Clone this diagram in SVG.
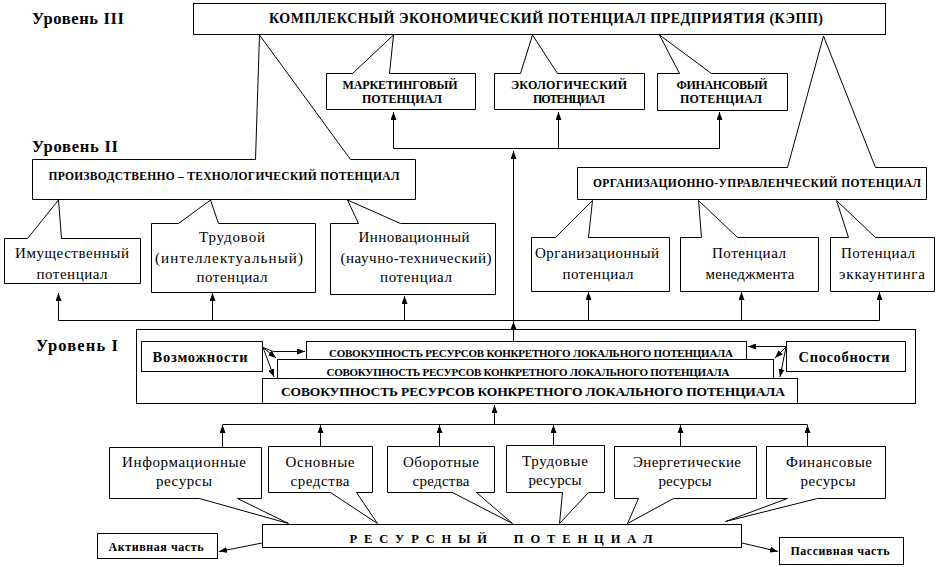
<svg xmlns="http://www.w3.org/2000/svg" width="937" height="567" viewBox="0 0 937 567">
<style>
.b{fill:#fff;stroke:#000;stroke-width:1}
.c{fill:none;stroke:#000;stroke-width:1}
text{font-family:"Liberation Serif","Times New Roman",serif;fill:#000;text-anchor:middle}
.lvl{font-size:16.5px;font-weight:bold;text-anchor:start}
.h{font-size:14px;font-weight:bold}
.cap{font-size:12px;font-weight:bold}
.cs{font-size:11.5px;font-weight:bold}
.ss{font-size:11px;font-weight:bold}
.r{font-size:15px}
.bw{font-size:14.5px;font-weight:bold}
.pre{white-space:pre}
</style>
<defs>
<marker id="ah" viewBox="0 0 8 6" refX="8" refY="3" markerWidth="8" markerHeight="6" orient="auto" markerUnits="userSpaceOnUse"><path d="M0,0 L8,3 L0,6 z" fill="#000"/></marker>
</defs>
<rect width="937" height="567" fill="#fff"/>

<g id="labels">
<text class="lvl" x="32" y="23.5" textLength="92">Уровень III</text>
<text class="lvl" x="32" y="151.5" textLength="86">Уровень II</text>
<text class="lvl" x="36" y="350.5" textLength="82">Уровень I</text>
</g>

<g id="kepp"><rect class="b" x="193.5" y="3.5" width="692" height="31"/>
<text class="h" x="546" y="23" textLength="554">КОМПЛЕКСНЫЙ ЭКОНОМИЧЕСКИЙ ПОТЕНЦИАЛ ПРЕДПРИЯТИЯ (КЭПП)</text></g>

<g id="marketing"><path class="b" d="M326.5,73.5 H352.5 L393.5,35 L389.5,73.5 H475.5 V109.5 H326.5 Z"/>
<text class="cap" x="400" y="89" textLength="115">МАРКЕТИНГОВЫЙ</text>
<text class="cap" x="402" y="103" textLength="80">ПОТЕНЦИАЛ</text></g>

<g id="ecology"><path class="b" d="M494.5,73.5 H520.5 L532.5,35 L557.5,73.5 H644.5 V109.5 H494.5 Z"/>
<text class="cap" x="569" y="89" textLength="116">ЭКОЛОГИЧЕСКИЙ</text>
<text class="cap" x="569" y="103" textLength="72">ПОТЕНЦИАЛ</text></g>

<g id="finance"><path class="b" d="M657.5,73.5 H679.5 L659.5,35 L711.5,73.5 H787.5 V110.5 H657.5 Z"/>
<text class="cap" x="722" y="89" textLength="91">ФИНАНСОВЫЙ</text>
<text class="cap" x="721" y="103" textLength="82">ПОТЕНЦИАЛ</text></g>

<g id="ptp"><path class="b" d="M32.5,159.5 H255.5 L259.5,35 L350.5,159.5 H415.5 V199.5 H32.5 Z"/>
<text class="cs" x="224" y="180" textLength="351">ПРОИЗВОДСТВЕННО – ТЕХНОЛОГИЧЕСКИЙ ПОТЕНЦИАЛ</text></g>

<g id="oup"><path class="b" d="M577.5,167.5 H787.5 L823.5,36 L875.5,167.5 H926.5 V199.5 H577.5 Z"/>
<text class="cs" x="757" y="187" textLength="328">ОРГАНИЗАЦИОННО-УПРАВЛЕНЧЕСКИЙ ПОТЕНЦИАЛ</text></g>

<g id="imush"><path class="b" d="M4.5,238.5 H27.5 L58.5,200 L61.5,238.5 H140.5 V283.5 H4.5 Z"/>
<text class="r" x="72" y="258" textLength="114">Имущественный</text>
<text class="r" x="72" y="279" textLength="71">потенциал</text></g>

<g id="trud"><path class="b" d="M151.5,223.5 H178.5 L210.5,200 L218.5,223.5 H315.5 V292.5 H151.5 Z"/>
<text class="r" x="232" y="242" textLength="66">Трудовой</text>
<text class="r" x="229" y="263" textLength="148">(интеллектуальный)</text>
<text class="r" x="232" y="282" textLength="71">потенциал</text></g>

<g id="innov"><path class="b" d="M330.5,223.5 H358.5 L347.5,200 L400.5,223.5 H495.5 V294.5 H330.5 Z"/>
<text class="r" x="414" y="242" textLength="111">Инновационный</text>
<text class="r" x="416" y="263" textLength="151">(научно-технический)</text>
<text class="r" x="416" y="282" textLength="72">потенциал</text></g>

<g id="org"><path class="b" d="M531.5,237.5 H555.5 L592.5,200.5 L588.5,237.5 H669.5 V291.5 H531.5 Z"/>
<text class="r" x="597" y="258" textLength="124">Организационный</text>
<text class="r" x="598" y="279" textLength="71">потенциал</text></g>

<g id="mgmt"><path class="b" d="M680.5,237.5 H701.5 L698.5,200.5 L737.5,237.5 H818.5 V291.5 H680.5 Z"/>
<text class="r" x="749" y="258" textLength="74">Потенциал</text>
<text class="r" x="750" y="279" textLength="89">менеджмента</text></g>

<g id="acct"><path class="b" d="M830.5,237.5 H848.5 L836.5,200.5 L875.5,237.5 H934.5 V291.5 H830.5 Z"/>
<text class="r" x="878" y="258" textLength="74">Потенциал</text>
<text class="r" x="882" y="279" textLength="86">эккаунтинга</text></g>

<g id="level1"><rect class="b" x="136.5" y="329.5" width="779" height="74"/></g>

<g id="vozm"><rect class="b" x="141.5" y="341.5" width="121" height="30"/>
<text class="bw" x="200" y="362" textLength="95">Возможности</text></g>

<g id="stack1"><rect class="b" x="306.5" y="341.5" width="440" height="18"/>
<text class="ss" x="531" y="356.5" textLength="404">СОВОКУПНОСТЬ РЕСУРСОВ КОНКРЕТНОГО ЛОКАЛЬНОГО ПОТЕНЦИАЛА</text></g>
<g id="stack2"><rect class="b" x="277.5" y="359.5" width="496" height="19"/>
<text class="ss" x="528" y="375.5" textLength="403">СОВОКУПНОСТЬ РЕСУРСОВ КОНКРЕТНОГО ЛОКАЛЬНОГО ПОТЕНЦИАЛА</text></g>
<g id="stack3"><rect class="b" x="262.5" y="378.5" width="535" height="25"/>
<text class="cap" style="font-size:13.5px" x="533" y="396" textLength="504">СОВОКУПНОСТЬ РЕСУРСОВ КОНКРЕТНОГО ЛОКАЛЬНОГО ПОТЕНЦИАЛА</text></g>

<g id="sposob"><rect class="b" x="786.5" y="341.5" width="119" height="30"/>
<text class="bw" x="844" y="362" textLength="91">Способности</text></g>

<g id="info"><path class="b" d="M109.5,447.5 H261.5 V498.5 H237.5 L288.5,523.5 L199.5,498.5 H109.5 Z"/>
<text class="r" x="184" y="467" textLength="124">Информационные</text>
<text class="r" x="184" y="486" textLength="56">ресурсы</text></g>

<g id="osn"><path class="b" d="M268.5,446.5 H372.5 V492.5 H356.5 L377.5,523.5 L330.5,492.5 H268.5 Z"/>
<text class="r" x="320" y="467" textLength="69">Основные</text>
<text class="r" x="320" y="486" textLength="59">средства</text></g>

<g id="obor"><path class="b" d="M387.5,446.5 H494.5 V492.5 H476.5 L512.5,523.5 L452.5,492.5 H387.5 Z"/>
<text class="r" x="441" y="467" textLength="76">Оборотные</text>
<text class="r" x="441" y="486" textLength="57">средства</text></g>

<g id="trudres"><path class="b" d="M506.5,445.5 H604.5 V492.5 H588.5 L559.5,523.5 L562.5,492.5 H506.5 Z"/>
<text class="r" x="555" y="466" textLength="66">Трудовые</text>
<text class="r" x="555" y="485" textLength="53">ресурсы</text></g>

<g id="energ"><path class="b" d="M614.5,446.5 H756.5 V498.5 H673.5 L627.5,523.5 L638.5,498.5 H614.5 Z"/>
<text class="r" x="687" y="467" textLength="108">Энергетические</text>
<text class="r" x="685" y="486" textLength="53">ресурсы</text></g>

<g id="finres"><path class="b" d="M766.5,446.5 H885.5 V498.5 H817.5 L725.5,521.5 L787.5,498.5 H766.5 Z"/>
<text class="r" x="829" y="467" textLength="86">Финансовые</text>
<text class="r" x="828" y="486" textLength="55">ресурсы</text></g>

<g id="rp"><rect class="b" x="262.5" y="524.5" width="479" height="23"/>
<text class="cap pre" style="font-size:12.5px" x="501" y="542.5" textLength="303">Р Е С У Р С Н Ы Й     П О Т Е Н Ц И А Л</text></g>

<g id="active"><rect class="b" x="97.5" y="533.5" width="120" height="25"/>
<text class="cap" x="156" y="551" textLength="95">Активная часть</text></g>

<g id="passive"><rect class="b" x="779.5" y="537.5" width="124" height="27"/>
<text class="cap" x="840" y="555" textLength="99">Пассивная часть</text></g>

<g id="connectors" class="c">
<path class="c" d="M393.5,148.5 H719.5"/>
<path class="c" d="M393.5,148.5 V112" marker-end="url(#ah)"/>
<path class="c" d="M558.5,148.5 V112" marker-end="url(#ah)"/>
<path class="c" d="M719.5,148.5 V112" marker-end="url(#ah)"/>
<path class="c" d="M513.5,341 V151" marker-end="url(#ah)"/>
<path class="c" d="M513.5,329 V321.5" marker-end="url(#ah)"/>
<path class="c" d="M58.5,320.5 H879.5"/>
<path class="c" d="M58.5,320.5 V293" marker-end="url(#ah)"/>
<path class="c" d="M212.5,320.5 V293" marker-end="url(#ah)"/>
<path class="c" d="M404.5,320.5 V296" marker-end="url(#ah)"/>
<path class="c" d="M588.5,320.5 V292" marker-end="url(#ah)"/>
<path class="c" d="M741.5,320.5 V292" marker-end="url(#ah)"/>
<path class="c" d="M879.5,320.5 V292" marker-end="url(#ah)"/>
<path class="c" d="M263,347.5 L273.5,351.5 H305" marker-end="url(#ah)"/>
<path class="c" d="M263,347.5 L276,358" marker-end="url(#ah)"/>
<path class="c" d="M263,347.5 L274,377" marker-end="url(#ah)"/>
<path class="c" d="M786,346.5 H748" marker-end="url(#ah)"/>
<path class="c" d="M786,347 L775,358" marker-end="url(#ah)"/>
<path class="c" d="M786,347 L780,377" marker-end="url(#ah)"/>
<path class="c" d="M222.5,424.5 H807.5"/>
<path class="c" d="M494.5,424.5 V405" marker-end="url(#ah)"/>
<path class="c" d="M222.5,447 V425" marker-end="url(#ah)"/>
<path class="c" d="M320.5,446 V425" marker-end="url(#ah)"/>
<path class="c" d="M439.5,446 V425" marker-end="url(#ah)"/>
<path class="c" d="M553.5,445 V425" marker-end="url(#ah)"/>
<path class="c" d="M680.5,446 V425" marker-end="url(#ah)"/>
<path class="c" d="M807.5,446 V425" marker-end="url(#ah)"/>
<path class="c" d="M262,543 L219,551.5" marker-end="url(#ah)"/>
<path class="c" d="M742,543 L778,551.5" marker-end="url(#ah)"/>
</g>
</svg>
